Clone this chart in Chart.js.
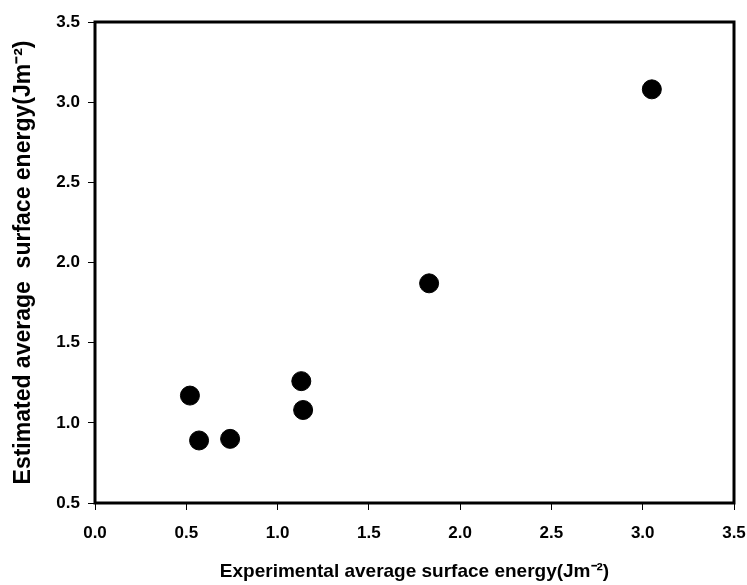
<!DOCTYPE html>
<html>
<head>
<meta charset="utf-8">
<script src="https://cdn.jsdelivr.net/npm/chart.js@4"></script>
<style>
  html, body { margin: 0; padding: 0; background: #fff; }
  #wrap { width: 747px; height: 585px; }
</style>
</head>
<body>
<div id="wrap"><canvas id="chart"></canvas></div>
<script>
// values
const experimental = [0.52, 0.57, 0.74, 1.13, 1.14, 1.83, 3.05];
const estimated = [1.17, 0.89, 0.90, 1.26, 1.08, 1.87, 3.08];

const xTitle = "Experimental average surface energy(Jm\u207B\u00B2)";
const yTitle = "Estimated average  surface energy(Jm\u207B\u00B2)";

const points = experimental.map((x, i) => ({ x: x, y: estimated[i] }));

// box around the plot area (top and right sides too)
const frame = {
  id: "frame",
  afterDatasetsDraw(chart) {
    const { ctx, chartArea } = chart;
    ctx.save();
    ctx.strokeStyle = "#000";
    ctx.lineWidth = 3;
    ctx.strokeRect(chartArea.left, chartArea.top,
      chartArea.right - chartArea.left, chartArea.bottom - chartArea.top);
    ctx.restore();
  },
};

const tickFont = { family: "'Liberation Sans', Arial, sans-serif", size: 17, weight: "bold" };

new Chart(document.getElementById("chart"), {
  type: "scatter",
  data: {
    datasets: [
      {
        data: points,
        backgroundColor: "#000",
        borderColor: "#000",
        pointRadius: 9.5,
        pointHoverRadius: 9.5,
      },
    ],
  },
  options: {
    responsive: true,
    maintainAspectRatio: false,
    animation: false,
    layout: { padding: { top: 22, right: 0, left: 0, bottom: 0 } },
    plugins: {
      legend: { display: false },
      tooltip: { enabled: false },
    },
    scales: {
      x: {
        type: "linear",
        min: 0,
        max: 3.5,
        ticks: {
          stepSize: 0.5,
          color: "#000",
          font: tickFont,
          padding: 13,
          callback: (v) => v.toFixed(1),
        },
        grid: {
          drawOnChartArea: false,
          color: "#000",
          lineWidth: 1,
          tickLength: 7,
        },
        border: { display: false },
        title: {
          display: true,
          text: xTitle,
          color: "#000",
          font: { family: "'Liberation Sans', Arial, sans-serif", size: 19, weight: "bold" },
          padding: { top: 0, bottom: 2 },
        },
        afterFit: (scale) => {
          scale.height = 82;
          scale.paddingLeft = 0;
          scale.paddingRight = 13;
        },
      },
      y: {
        type: "linear",
        min: 0.5,
        max: 3.5,
        ticks: {
          stepSize: 0.5,
          color: "#000",
          font: tickFont,
          padding: 8,
          callback: (v) => v.toFixed(1),
        },
        grid: {
          drawOnChartArea: false,
          color: "#000",
          lineWidth: 1,
          tickLength: 7,
        },
        border: { display: false },
        title: {
          display: true,
          text: yTitle,
          color: "#000",
          font: { family: "'Liberation Sans', Arial, sans-serif", size: 23, weight: "bold" },
          padding: { top: 10, bottom: 0 },
        },
        afterFit: (scale) => {
          scale.width = 95;
          scale.paddingTop = 0;
          scale.paddingBottom = 0;
        },
      },
    },
  },
  plugins: [frame],
});
</script>
</body>
</html>
